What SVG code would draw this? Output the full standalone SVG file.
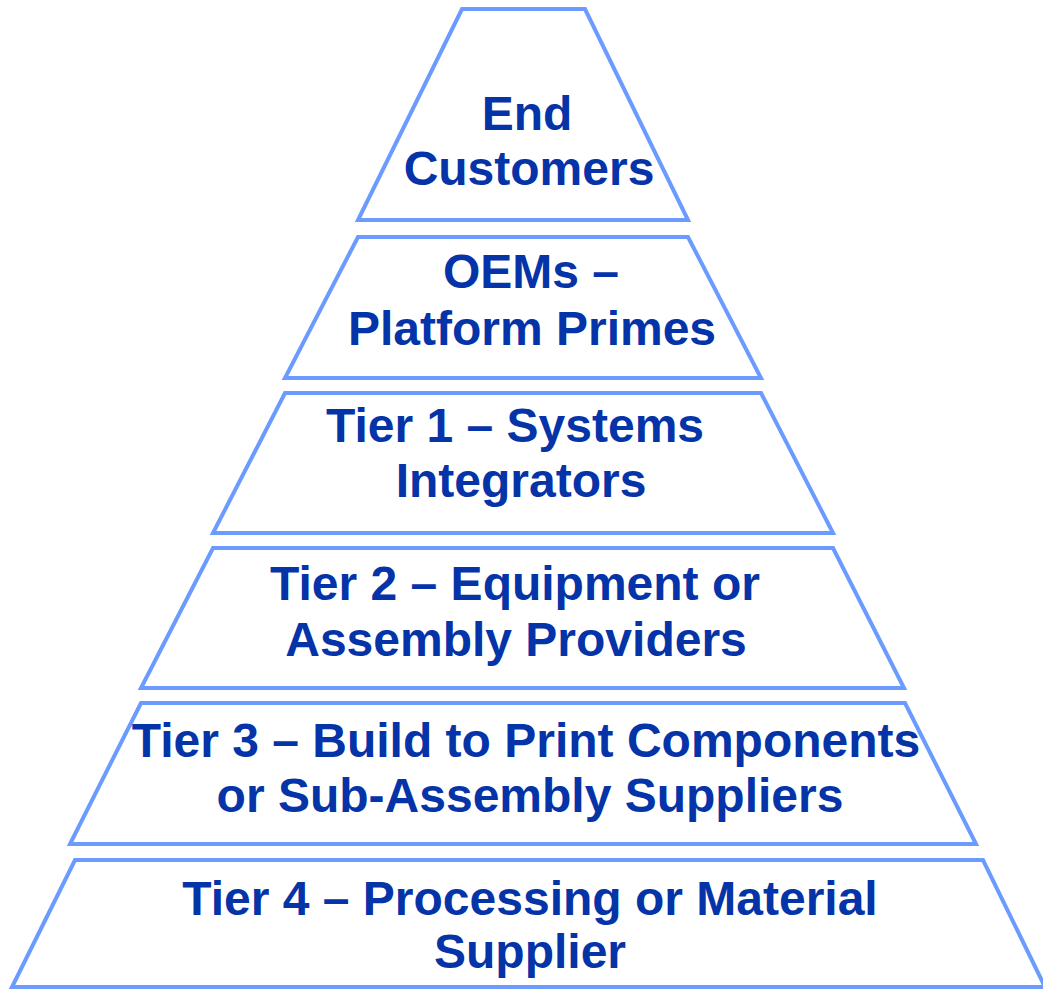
<svg xmlns="http://www.w3.org/2000/svg" width="1043" height="989" viewBox="0 0 1043 989">
<style>
.tier{fill:#ffffff;stroke:#6B9BFF;stroke-width:4;stroke-linejoin:miter}
.lbl{font-family:"Liberation Sans",Arial,sans-serif;font-weight:bold;font-size:48px;fill:#0533A8;text-anchor:middle}
</style>
<rect width="1043" height="989" fill="#ffffff"/>
<g id="tier-end-customers">
<polygon class="tier" points="462,9 585,9 688,220 358,220"/>
<text class="lbl" x="527" y="130">End</text>
<text class="lbl" x="529" y="185">Customers</text>
</g>
<g id="tier-oems">
<polygon class="tier" points="358,237 688,237 761,378 285,378"/>
<text class="lbl" x="531" y="288">OEMs –</text>
<text class="lbl" x="532" y="345">Platform Primes</text>
</g>
<g id="tier-1">
<polygon class="tier" points="285,393 761,393 833,533 213,533"/>
<text class="lbl" x="515" y="442">Tier 1 – Systems</text>
<text class="lbl" x="521" y="497">Integrators</text>
</g>
<g id="tier-2">
<polygon class="tier" points="213,548 833,548 904,688 141,688"/>
<text class="lbl" x="515" y="600">Tier 2 – Equipment or</text>
<text class="lbl" x="516" y="656">Assembly Providers</text>
</g>
<g id="tier-3">
<polygon class="tier" points="141,703 905,703 976,844 70,844"/>
<text class="lbl" x="526" y="757">Tier 3 – Build to Print Components</text>
<text class="lbl" x="530" y="812">or Sub-Assembly Suppliers</text>
</g>
<g id="tier-4">
<polygon class="tier" points="75,860 983,860 1045,987 12,987"/>
<text class="lbl" x="530" y="915">Tier 4 – Processing or Material</text>
<text class="lbl" x="530" y="968">Supplier</text>
</g>
<g id="connectors"></g>
</svg>
